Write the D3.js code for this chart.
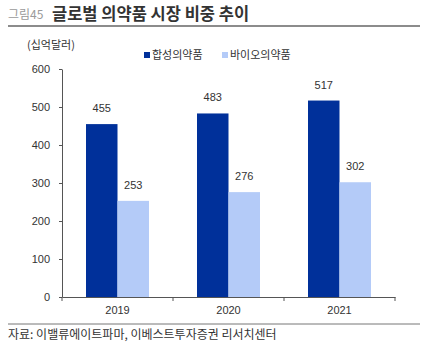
<!DOCTYPE html>
<html><head><meta charset="utf-8">
<script src="https://cdn.jsdelivr.net/npm/d3@7/dist/d3.min.js"></script>
<style>body{margin:0;background:#fff;} svg{display:block;font-family:"Liberation Sans","Noto Sans CJK KR",sans-serif;}</style>
</head><body>
<script>
const years = ["2019", "2020", "2021"];
const seriesNames = ["합성의약품", "바이오의약품"];
const synthetic = [455, 483, 517];
const bio = [253, 276, 302];
const yTicks = [0, 100, 200, 300, 400, 500, 600];
const colors = ["#00309a", "#b4cbf8"];

const W = 428, H = 346;
const svg = d3.select("body").append("svg").attr("width", W).attr("height", H);
const kr = '"Noto Sans CJK KR", sans-serif';

// Title
svg.append("text").attr("x", 8).attr("y", 19).style("font-family", kr)
  .text("그림45").attr("fill", "#9a9a9a").attr("font-size", 12);
svg.append("text").attr("x", 52).attr("y", 20).style("font-family", kr)
  .text("글로벌 의약품 시장 비중 추이").attr("fill", "#333").attr("font-size", 16.5).attr("font-weight", "bold");
svg.append("line").attr("x1", 8).attr("x2", 420).attr("y1", 26).attr("y2", 26).attr("stroke", "#8c8c8c").attr("stroke-width", 2);

// Unit
svg.append("text").attr("x", 27).attr("y", 49).text("(십억달러)").attr("font-size", 11).attr("fill", "#333").style("font-family", kr);

const x = d3.scaleBand().domain(years).range([62, 395]);
const y = d3.scaleLinear().domain([0, 600]).range([297, 69]);
const barW = 31.5;

const data = [synthetic, bio];
years.forEach((yr, i) => {
  const cx = x(yr) + x.bandwidth() / 2;
  data.forEach((s, j) => {
    const bx = cx - barW + j * barW;
    svg.append("rect").attr("x", bx).attr("y", y(s[i])).attr("width", barW).attr("height", y(0) - y(s[i])).attr("fill", colors[j]);
    svg.append("text").attr("x", bx + barW / 2).attr("y", y(s[i]) - 12).attr("text-anchor", "middle")
      .attr("font-size", 11).attr("fill", "#333").text(s[i]);
  });
});

// Y axis
const yAxis = svg.append("g").attr("transform", "translate(62,0)").call(d3.axisLeft(y).tickValues(yTicks).tickSize(3).tickSizeOuter(0));
yAxis.select(".domain").attr("stroke", "#555");
yAxis.selectAll(".tick line").attr("stroke", "#555");
yAxis.selectAll("text").attr("font-size", 11).attr("fill", "#333").attr("font-family", "Liberation Sans").attr("dx", -6);

// X axis
const xAxis = svg.append("g").attr("transform", "translate(0,297)").call(d3.axisBottom(x).tickSize(0).tickSizeOuter(0));
xAxis.select(".domain").attr("stroke", "#555");
xAxis.selectAll("text").attr("font-size", 11).attr("fill", "#333").attr("dy", "1.3em").attr("font-family", "Liberation Sans");
const bounds = years.map(d => x(d)).concat([x.range()[1]]);
svg.append("g").selectAll("line").data(bounds).join("line")
  .attr("x1", d => d).attr("x2", d => d).attr("y1", 297).attr("y2", 301).attr("stroke", "#555");

// Legend
const lg = svg.append("g").style("font-family", kr);
const lx = [144, 222];
seriesNames.forEach((n, j) => {
  lg.append("rect").attr("x", lx[j]).attr("y", 52).attr("width", 6).attr("height", 6).attr("fill", colors[j]);
  lg.append("text").attr("x", lx[j] + 8).attr("y", 59).text(n).attr("font-size", 11).attr("fill", "#333");
});

// Footer
svg.append("line").attr("x1", 8).attr("x2", 420).attr("y1", 324).attr("y2", 324).attr("stroke", "#777").attr("stroke-width", 1);
svg.append("text").attr("x", 8).attr("y", 339).text("자료: 이밸류에이트파마, 이베스트투자증권 리서치센터").attr("font-size", 12).attr("fill", "#333").style("font-family", kr);
</script>
</body></html>
